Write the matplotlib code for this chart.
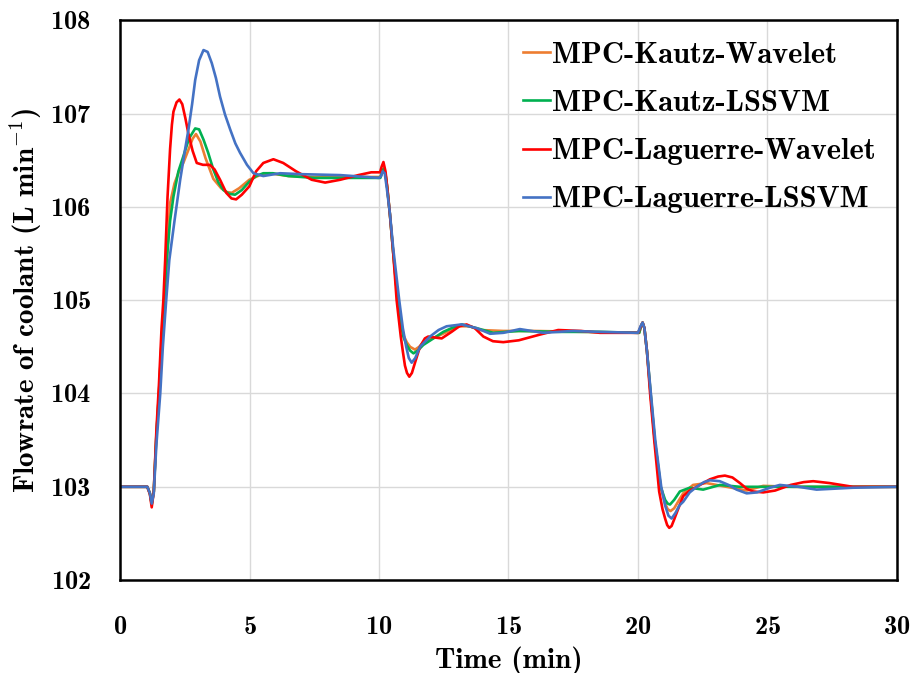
import matplotlib
matplotlib.use("Agg")
import matplotlib.pyplot as plt

plt.rcParams['font.family'] = ['cmb10', 'DejaVu Serif']
plt.rcParams['mathtext.fontset'] = 'cm'
plt.rcParams['axes.formatter.use_mathtext'] = True

# Kautz-Wavelet (orange)
t_kw = [0, 1.05, 1.15, 1.22, 1.3, 1.4, 1.5, 1.6, 1.7, 1.8, 1.93, 2.1, 2.3, 2.44, 2.65, 2.8, 2.93,
        3.1, 3.3, 3.6, 3.9, 4.1, 4.31, 4.6, 4.99, 5.4, 5.77, 6.5, 7.5, 9.0, 10.05, 10.12, 10.18,
        10.25, 10.32, 10.42, 10.55, 10.72, 10.85, 10.95, 11.07, 11.2, 11.39, 11.55, 11.71, 12.23,
        12.7, 13.1, 13.5, 13.9, 14.8, 16.0, 18.0, 20.05, 20.12, 20.18, 20.25, 20.35, 20.49, 20.65,
        20.88, 21.05, 21.15, 21.26, 21.4, 21.55, 21.75, 22.13, 22.65, 23.42, 24.2, 24.84, 26.0,
        28.0, 30.0]
v_kw = [103.0, 103.0, 102.93, 102.82, 102.95, 103.55, 104.0, 104.55, 105.0, 105.4, 106.04, 106.25,
        106.4, 106.47, 106.62, 106.73, 106.78, 106.7, 106.52, 106.3, 106.2, 106.16, 106.15, 106.2,
        106.29, 106.34, 106.36, 106.33, 106.32, 106.32, 106.32, 106.38, 106.41, 106.35, 106.2,
        105.92, 105.5, 105.0, 104.75, 104.62, 104.55, 104.5, 104.47, 104.5, 104.55, 104.61,
        104.67, 104.72, 104.72, 104.68, 104.67, 104.67, 104.66, 104.65, 104.72, 104.76, 104.7,
        104.45, 104.0, 103.5, 103.0, 102.82, 102.76, 102.74, 102.77, 102.84, 102.93, 103.02,
        103.04, 103.0, 102.96, 103.01, 103.0, 103.0, 103.0]

# Kautz-LSSVM (green)
t_kl = [0, 1.05, 1.15, 1.22, 1.3, 1.4, 1.5, 1.6, 1.71, 1.8, 1.93, 2.06, 2.25, 2.44, 2.6, 2.7, 2.9,
        3.05, 3.22, 3.4, 3.6, 3.8, 3.99, 4.2, 4.44, 4.7, 4.99, 5.25, 5.53, 5.9, 6.5, 7.5, 9.0, 10.05,
        10.12, 10.18, 10.25, 10.32, 10.42, 10.55, 10.72, 10.85, 10.95, 11.07, 11.2, 11.33, 11.5,
        11.71, 12.1, 12.48, 12.8, 13.2, 13.77, 14.41, 15.4, 17.0, 18.5, 20.05, 20.12, 20.18, 20.25,
        20.35, 20.49, 20.65, 20.88, 21.05, 21.15, 21.24, 21.4, 21.62, 22.0, 22.52, 23.17, 23.94,
        25.0, 27.0, 30.0]
v_kl = [103.0, 103.0, 102.93, 102.81, 102.95, 103.55, 104.0, 104.55, 105.0, 105.43, 105.85, 106.11,
        106.38, 106.54, 106.68, 106.75, 106.84, 106.83, 106.72, 106.58, 106.4, 106.26, 106.18,
        106.14, 106.13, 106.18, 106.27, 106.33, 106.36, 106.36, 106.33, 106.31, 106.31, 106.31,
        106.37, 106.41, 106.35, 106.2, 105.92, 105.5, 105.0, 104.74, 104.6, 104.52, 104.46, 104.43,
        104.46, 104.52, 104.59, 104.66, 104.7, 104.74, 104.7, 104.65, 104.67, 104.66, 104.66,
        104.65, 104.72, 104.76, 104.7, 104.45, 104.0, 103.5, 103.0, 102.86, 102.82, 102.81, 102.86,
        102.95, 102.99, 102.97, 103.02, 103.0, 103.0, 103.0, 103.0]

# Laguerre-Wavelet (red)
t_lw = [0, 1.05, 1.15, 1.22, 1.3, 1.4, 1.5, 1.6, 1.67, 1.74, 1.83, 1.93, 2.0, 2.06, 2.18, 2.29,
        2.4, 2.52, 2.64, 2.8, 2.96, 3.2, 3.47, 3.65, 3.86, 4.1, 4.3, 4.48, 4.7, 4.99, 5.25, 5.53,
        5.92, 6.3, 6.8, 7.4, 7.92, 8.5, 9.2, 9.7, 10.04, 10.1, 10.17, 10.25, 10.32, 10.42, 10.55,
        10.68, 10.84, 10.92, 11.0, 11.08, 11.17, 11.27, 11.39, 11.58, 11.77, 11.9, 12.15, 12.42,
        12.8, 13.1, 13.38, 13.7, 14.03, 14.4, 14.8, 15.4, 16.2, 16.92, 17.8, 18.53, 19.3, 20.01,
        20.1, 20.18, 20.25, 20.35, 20.47, 20.63, 20.82, 20.95, 21.05, 21.13, 21.21, 21.3, 21.4,
        21.55, 21.75, 22.0, 22.27, 22.78, 23.1, 23.36, 23.65, 23.94, 24.2, 24.45, 24.84, 25.3,
        25.9, 26.4, 26.77, 27.4, 28.3, 29.0, 30.0]
v_lw = [103.0, 103.0, 102.92, 102.78, 102.95, 103.6, 104.1, 104.7, 105.0, 105.43, 106.1, 106.62,
        106.88, 107.02, 107.12, 107.15, 107.1, 106.95, 106.78, 106.6, 106.47, 106.45, 106.45,
        106.4, 106.29, 106.15, 106.09, 106.08, 106.13, 106.22, 106.38, 106.47, 106.51, 106.47,
        106.38, 106.29, 106.26, 106.29, 106.34, 106.37, 106.37, 106.43, 106.48, 106.38, 106.2,
        105.92, 105.5, 105.0, 104.61, 104.45, 104.3, 104.22, 104.18, 104.22, 104.33, 104.5,
        104.59, 104.61, 104.6, 104.59, 104.66, 104.72, 104.74, 104.7, 104.61, 104.56, 104.55,
        104.57, 104.63, 104.68, 104.67, 104.65, 104.65, 104.65, 104.71, 104.76, 104.7, 104.45,
        104.0, 103.5, 102.95, 102.76, 102.66, 102.59, 102.56, 102.58, 102.65, 102.76, 102.9,
        102.96, 103.0, 103.08, 103.11, 103.12, 103.1, 103.04, 102.98, 102.95, 102.94, 102.96,
        103.02, 103.05, 103.06, 103.04, 103.0, 103.0, 103.0]

# Laguerre-LSSVM (blue)
t_ll = [0, 1.05, 1.15, 1.22, 1.3, 1.4, 1.55, 1.65, 1.78, 1.9, 2.1, 2.32, 2.5, 2.64, 2.78, 2.9, 3.05,
        3.22, 3.38, 3.54, 3.7, 3.86, 4.05, 4.25, 4.45, 4.63, 4.9, 5.15, 5.53, 6.18, 7.0, 8.5, 10.0,
        10.08, 10.14, 10.22, 10.3, 10.42, 10.55, 10.78, 10.92, 11.05, 11.15, 11.26, 11.4, 11.58,
        11.97, 12.3, 12.61, 13.19, 13.77, 14.29, 14.8, 15.44, 16.34, 17.5, 18.5, 20.0, 20.1, 20.18,
        20.25, 20.35, 20.5, 20.67, 20.9, 21.05, 21.18, 21.3, 21.45, 21.6, 21.75, 22.0, 22.27, 22.55,
        22.78, 23.16, 23.5, 23.81, 24.2, 24.6, 25.1, 25.48, 26.2, 26.9, 28.3, 30.0]
v_ll = [103.0, 103.0, 102.93, 102.82, 102.93, 103.45, 104.0, 104.5, 105.0, 105.43, 105.85, 106.29,
        106.6, 106.83, 107.1, 107.36, 107.57, 107.68, 107.66, 107.54, 107.38, 107.18, 106.99,
        106.83, 106.68, 106.58, 106.45, 106.36, 106.33, 106.36, 106.35, 106.34, 106.31, 106.33,
        106.38, 106.36, 106.2, 105.93, 105.55, 105.0, 104.7, 104.5, 104.38, 104.33, 104.38, 104.5,
        104.61, 104.68, 104.72, 104.74, 104.7, 104.64, 104.65, 104.69, 104.65, 104.67, 104.66,
        104.65, 104.72, 104.76, 104.7, 104.45, 104.0, 103.5, 103.0, 102.8, 102.69, 102.66, 102.72,
        102.8, 102.84, 102.94, 103.0, 103.05, 103.07, 103.06, 103.02, 102.97, 102.93, 102.94,
        102.99, 103.02, 103.0, 102.97, 102.99, 103.0]

series = [
    (t_kw, v_kw, "MPC-Kautz-Wavelet", "#ED7D31"),
    (t_kl, v_kl, "MPC-Kautz-LSSVM", "#00B050"),
    (t_lw, v_lw, "MPC-Laguerre-Wavelet", "#FF0000"),
    (t_ll, v_ll, "MPC-Laguerre-LSSVM", "#4472C4"),
]

fig = plt.figure(figsize=(9.17, 6.73), dpi=100)
ax = fig.add_axes([0.131, 0.138, 0.847, 0.832])

for t, v, name, color in series:
    ax.plot(t, v, color=color, lw=1.9, label=name)

ax.set_xlim(0, 30)
ax.set_ylim(102, 108)
ax.set_xticks(range(0, 31, 5))
ax.set_yticks(range(102, 109))
ax.grid(True, color="#D9D9D9", lw=1.0)
ax.set_axisbelow(True)
for s in ax.spines.values():
    s.set_linewidth(1.8)
    s.set_color("black")
ax.tick_params(axis="x", length=0, pad=26, labelsize=19)
ax.tick_params(axis="y", length=0, pad=21, labelsize=19)

ax.set_xlabel("Time (min)", fontsize=21, labelpad=5)
ax.set_ylabel(r"Flowrate of coolant (L min$^{\mathbf{-1}}$)", fontsize=21, labelpad=4)

ax.legend(loc="upper right", frameon=False, fontsize=22, handlelength=0.9,
          handletextpad=0.05, labelspacing=0.68, bbox_to_anchor=(1.0, 1.0),
          borderaxespad=0.3)

fig.savefig("out.png", dpi=100)
